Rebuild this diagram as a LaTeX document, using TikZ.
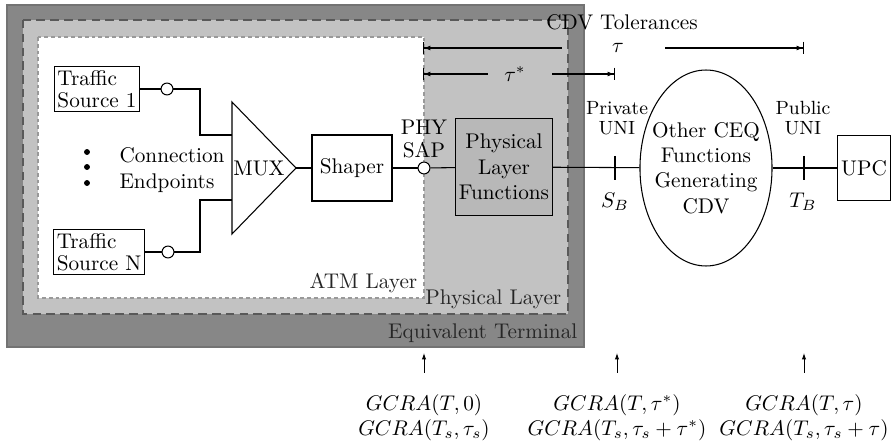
\documentclass[tikz,border=0pt]{standalone}
\usepackage{amsmath,amssymb}
\usepackage{tikz}
\usetikzlibrary{arrows.meta,positioning,calc,shapes.geometric}
\definecolor{termgray}{gray}{0.53}
\definecolor{phygray}{gray}{0.76}
\definecolor{fngray}{gray}{0.72}
\tikzset{
  termlayer/.style={draw=black!55, fill=termgray, line width=0.6pt},
  phylayer/.style={draw=black!65, fill=phygray, line width=0.7pt, dash pattern=on 4pt off 2.5pt},
  atmlayer/.style={draw=black!40, fill=white, line width=0.6pt, dash pattern=on 1.8pt off 1.4pt},
  layerlabel/.style={inner sep=1.5pt, text=black!85},
  srcbox/.style={draw, align=left, inner sep=1.6pt, font=\fontsize{10}{10.4}\selectfont},
  fnbox/.style={draw, align=center, inner sep=1pt},
  sapnode/.style={draw, circle, fill=white, minimum size=5.6pt, inner sep=0pt},
  dotn/.style={circle, fill=black, minimum size=2.8pt, inner sep=0pt},
  unilbl/.style={align=center, inner sep=0pt, font=\fontsize{9}{9.4}\selectfont},
  tolL/.style={{Bar[width=6pt]Latex[length=3pt,width=2.4pt]}-},
  tolR/.style={-{Latex[length=3pt,width=2.4pt]Bar[width=6pt]}},
  gcraarrow/.style={-{Latex[length=3pt,width=2pt]}, line width=0.4pt},
}
\begin{document}
\begin{tikzpicture}[x=0.471pt, y=-0.471pt, line width=0.5pt]
  \useasboundingbox (0,0) rectangle (893,442);

  % nested layers of the equivalent terminal
  \draw[termlayer] (7,5) rectangle (584,347);
  \draw[phylayer] (23,20) rectangle (568,314);
  \draw[atmlayer] (38,37) rectangle (424,298);
  \node[layerlabel, anchor=south east] (atmlbl) at (421,297) {ATM Layer};
  \node[layerlabel, anchor=south east] (phylbl) at (565,313) {Physical Layer};
  \node[layerlabel, anchor=south east] (etlbl) at (581,346) {Equivalent Terminal};

  % traffic sources
  \node[srcbox] (src1) at (97,89) {Traffic\\Source 1};
  \node[srcbox] (srcN) at (99,252) {Traffic\\Source N};
  \node[sapnode] (c1) at (167,89) {};
  \node[sapnode] (cN) at (168,252) {};
  \foreach \y in {152,167,183} {
    \node[dotn] (dot\y) at (87,\y) {};
  }
  \node[align=left, anchor=west, inner sep=0pt] (cep) at (119,170) {Connection\\Endpoints};

  % multiplexer
  \coordinate (muxtl) at (232,102);
  \coordinate (muxbl) at (232,234);
  \coordinate (muxtip) at (296,168);
  \draw (muxtl) -- (muxtip) -- (muxbl) -- cycle;
  \node[inner sep=0pt] (mux) at (259,168) {MUX};
  \coordinate (mxin1) at (232,135);
  \coordinate (mxinN) at (232,200);
  \coordinate (j1) at (200,135);
  \coordinate (jN) at (200,200);
  \draw (src1) -- (c1);
  \draw (srcN) -- (cN);
  \draw (c1) -| (j1) -- (mxin1);
  \draw (cN) -| (jN) -- (mxinN);

  % main chain
  \node[fnbox, minimum width=37.7pt, minimum height=31.1pt] (shaper) at (352,168) {Shaper};
  \node[sapnode] (sap) at (424,168) {};
  \node[align=center, inner sep=0pt, font=\fontsize{10}{10.8}\selectfont] (saplbl) at (424,139) {PHY\\SAP};
  \node[fnbox, fill=fngray, minimum width=45.7pt, minimum height=45.7pt] (phyfn) at (504,167) {Physical\\Layer\\Functions};
  \node[draw, ellipse, inner sep=0pt, minimum width=62.2pt, minimum height=92.3pt] (ceq) at (706,168) {};
  \node[align=center, inner sep=0pt] (ceqtxt) at (ceq.center) {Other CEQ\\Functions\\Generating\\CDV};
  \node[fnbox, minimum width=25.4pt, minimum height=30.6pt] (upc) at (864,168) {UPC};
  \draw (muxtip) -- (shaper);
  \draw (shaper) -- (sap);
  \draw (sap) -- (phyfn);
  \draw (phyfn) -- (ceq);
  \draw (ceq) -- (upc);

  % reference points S_B and T_B
  \coordinate (sb) at (615,168);
  \coordinate (tb) at (804,168);
  \foreach \p in {sb,tb} {
    \draw ($(\p)+(0,-12)$) -- ($(\p)+(0,12)$);
  }
  \node[unilbl] (privlbl) at (617,118) {Private\\UNI};
  \node[unilbl] (publbl) at (803,118) {Public\\UNI};
  \node (sblbl) at (615,202) {$S_B$};
  \node (tblbl) at (803,202) {$T_B$};

  % tolerances
  \node (cdvlbl) at (622,22) {CDV Tolerances};
  \node (taulbl) at (618,48) {$\tau$};
  \node (taustlbl) at (515,74) {$\tau^*$};
  \coordinate (t1l) at (423,48);
  \coordinate (t1a) at (562,48);
  \coordinate (t1b) at (665,48);
  \coordinate (t1r) at (804,48);
  \coordinate (t2l) at (423,74);
  \coordinate (t2a) at (488,74);
  \coordinate (t2b) at (552,74);
  \coordinate (t2r) at (615,74);
  \draw[tolL] (t1l) -- (t1a);
  \draw[tolR] (t1b) -- (t1r);
  \draw[tolL] (t2l) -- (t2a);
  \draw[tolR] (t2b) -- (t2r);

  % conformance definitions
  \foreach \x/\n/\a/\b in {424/et/{GCRA(T,0)}/{GCRA(T_s,\tau_s)},
      617/sb/{GCRA(T,\tau^*)}/{GCRA(T_s,\tau_s+\tau^*)},
      804/tb/{GCRA(T,\tau)}/{GCRA(T_s,\tau_s+\tau)}} {
    \node (gcraA\n) at (\x,405) {$\a$};
    \node (gcraB\n) at (\x,430) {$\b$};
    \coordinate (ft\n) at (\x,373);
    \coordinate (hd\n) at (\x,353);
    \draw[gcraarrow] (ft\n) -- (hd\n);
  }
\end{tikzpicture}
\end{document}
